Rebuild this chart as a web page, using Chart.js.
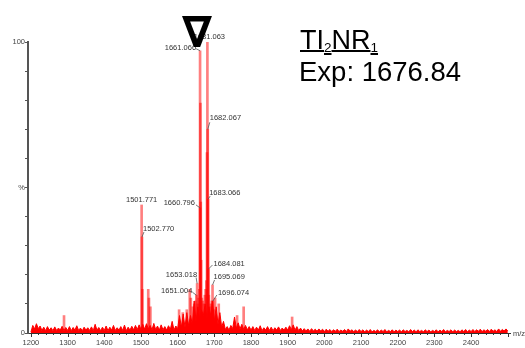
<!DOCTYPE html>
<html>
<head>
<meta charset="utf-8">
<script src="https://cdn.jsdelivr.net/npm/chart.js@4"></script>
<style>
html, body { margin: 0; padding: 0; background: #fff; }
#wrap { width: 525px; height: 348px; }
</style>
</head>
<body>
<div id="wrap"><canvas id="c"></canvas></div>
<script>
// baseline noise, one value every 5 Da starting at 1200 (relative intensity %)
const noiseStart = 1200;
const noiseStep = 5;
const noise = [
  0.3,2.6,1.4,3.2,1.5,2.4,0.9,2.0,0.8,2.2,1.0,1.8,0.8,2.1,0.9,1.7,1.0,2.3,0.8,1.9,
  0.9,2.2,0.8,1.9,1.0,2.5,0.9,1.7,0.8,2.0,1.0,1.8,0.9,2.1,0.8,3.0,1.0,1.9,0.8,2.0,
  0.9,2.4,0.8,2.0,1.0,2.6,0.9,1.8,1.0,2.2,0.9,2.7,0.8,2.0,1.0,2.3,1.1,2.6,1.2,2.8,
  1.2,3.0,1.3,3.2,1.4,2.6,1.1,3.3,1.2,2.4,1.0,2.8,1.1,2.2,1.0,2.5,1.2,4.0,1.0,2.4,
  1.5,6.0,2.0,6.5,2.0,7.0,2.5,6.0,3.0,11.0,4.0,9.0,5.0,8.0,6.0,10.0,5.0,9.0,6.0,11.0,
  4.0,9.0,3.0,7.0,2.0,4.0,1.2,2.2,1.0,2.6,1.5,5.5,1.6,3.5,1.4,3.0,1.2,2.6,1.1,2.2,
  1.0,2.2,0.9,2.0,1.0,2.5,0.8,1.8,1.0,2.2,0.9,2.0,0.8,1.8,1.0,2.1,0.9,1.7,1.0,2.0,
  1.0,2.5,1.1,2.8,1.0,2.2,0.8,1.7,0.7,1.5,0.7,1.4,0.6,1.5,0.7,1.3,0.6,1.4,0.7,1.3,
  0.5,1.3,0.6,1.2,0.5,1.1,0.6,1.3,0.5,1.0,0.6,1.2,0.5,1.4,0.6,1.1,0.5,1.0,0.5,1.2,
  0.5,1.1,0.4,1.0,0.5,1.2,0.4,0.9,0.5,1.1,0.4,1.0,0.5,1.2,0.4,0.9,0.5,1.1,0.4,1.0,
  0.5,1.0,0.4,1.1,0.5,0.9,0.4,1.2,0.5,1.0,0.4,1.1,0.5,0.9,0.4,1.1,0.5,1.0,0.4,0.9,
  0.5,1.1,0.4,1.0,0.5,1.2,0.4,0.9,0.5,1.1,0.4,1.0,0.5,0.9,0.4,1.1,0.5,1.2,0.4,1.0,
  0.5,1.2,0.5,1.1,0.6,1.3,0.5,1.1,0.6,1.2,0.5,1.3,0.6,1.1,0.5,1.4,0.6,1.2,0.7,1.4,0.7
];

// centroid peaks (m/z, %)
const peakMz = [1290.2, 1501.771, 1502.770, 1503.77, 1519.8, 1521.8, 1525.7, 1603.9, 1614.0, 1624.9,
  1633.0, 1635.9, 1641.1, 1645.0, 1648.0, 1651.004, 1653.018, 1655.0, 1657.1, 1659.0,
  1660.796, 1661.066, 1662.07, 1663.07, 1664.08, 1666.0, 1668.0, 1671.1, 1674.0, 1676.0,
  1678.1, 1679.9, 1681.063, 1682.067, 1683.066, 1684.081, 1685.1, 1687.0, 1690.0, 1693.0,
  1695.069, 1696.074, 1698.0, 1702.0, 1712.0, 1762.0, 1779.9, 1912.0];
const peakInt = [6, 44, 33, 15, 15, 12, 9, 8, 7, 8,
  15, 12, 9, 10, 11, 13, 17, 10, 12, 15,
  43, 97, 79, 45, 25, 12, 11, 10, 13, 15,
  18, 62, 100, 70, 46, 22, 13, 9, 10, 11,
  16.5, 11, 8, 12, 10, 6, 9, 5.5];

const labelled = ['1501.771', '1502.770', '1651.004', '1653.018', '1660.796', '1661.066',
  '1681.063', '1682.067', '1683.066', '1684.081', '1695.069', '1696.074'];

const xTickValues = [1200, 1300, 1400, 1500, 1600, 1700, 1800, 1900, 2000, 2100, 2200, 2300, 2400];
const yTickText = {0: '0', 50: '%', 100: '100'};

const noisePts = noise.map((v, i) => ({x: noiseStart + i * noiseStep, y: v}));
const peakPts = peakMz.map((m, i) => ({x: m, y: peakInt[i]}));

// label placement: [dx, dy, align, leader]
const labelPos = {
  '1501.771': [0, -5, 'center', null],
  '1502.770': [1, -8, 'left', [2, -5]],
  '1651.004': [-4, -4, 'right', [-4, -3]],
  '1653.018': [0, -9, 'right', [-1, -6]],
  '1660.796': [-5, -5, 'right', [-4, -3]],
  '1661.066': [-4, -3, 'right', [-4, -2]],
  '1681.063': [2, -5, 'center', null],
  '1682.067': [2, -11, 'left', [2, -7]],
  '1683.066': [1, -6, 'left', [2, -3]],
  '1684.081': [5, -5, 'left', [4, -4]],
  '1695.069': [1, -8, 'left', [2, -5]],
  '1696.074': [5, -8, 'left', [4, -6]]
};

const smallFont = '7.5px "Liberation Sans", Arial, sans-serif';

const decor = {
  id: 'decor',
  afterDraw(chart) {
    const {ctx, scales: {x, y}} = chart;
    ctx.save();

    // x axis ticks, long every 100, short every 20
    ctx.strokeStyle = '#333';
    ctx.lineWidth = 1;
    ctx.beginPath();
    for (let v = 1200; v <= 2500; v += 20) {
      const px = Math.round(x.getPixelForValue(v)) + 0.5;
      ctx.moveTo(px, y.bottom);
      ctx.lineTo(px, y.bottom + (v % 100 === 0 ? 4 : 2));
    }
    ctx.stroke();

    ctx.font = smallFont;
    ctx.fillStyle = '#444';
    ctx.textBaseline = 'middle';
    ctx.textAlign = 'center';
    xTickValues.forEach(v => ctx.fillText(String(v), x.getPixelForValue(v), y.bottom + 10));
    ctx.textAlign = 'left';
    ctx.fillText('m/z', 513, y.bottom + 1);

    // peak labels
    ctx.fillStyle = '#333';
    ctx.strokeStyle = '#555';
    ctx.lineWidth = 0.8;
    labelled.forEach(t => {
      const m = parseFloat(t);
      const idx = peakMz.findIndex(p => Math.abs(p - m) < 0.001);
      const px = x.getPixelForValue(m);
      const py = y.getPixelForValue(peakInt[idx]);
      const [dx, dy, al, ld] = labelPos[t];
      if (ld) {
        ctx.beginPath();
        ctx.moveTo(px, py);
        ctx.lineTo(px + ld[0], py + ld[1]);
        ctx.stroke();
      }
      ctx.textAlign = al;
      ctx.fillText(t, px + dx, py + dy);
    });

    // marker and annotation
    ctx.fillStyle = '#000';
    ctx.textAlign = 'center';
    ctx.textBaseline = 'alphabetic';
    ctx.font = 'bold 43px "DejaVu Sans"';
    ctx.fillText('\u2207', 197, 47);

    ctx.textAlign = 'left';
    let cx = 300;
    const parts = [['TI', false], ['2', true], ['NR', false], ['1', true]];
    parts.forEach(([s, sub]) => {
      ctx.font = sub ? '13.5px "Liberation Sans", Arial' : '27px "Liberation Sans", Arial';
      const base = sub ? 52 : 48.5;
      ctx.fillText(s, cx, base);
      const w = ctx.measureText(s).width;
      ctx.fillRect(cx, sub ? 53 : 50, w, 2);
      cx += w;
    });
    ctx.font = '27.5px "Liberation Sans", Arial';
    ctx.fillText('Exp: 1676.84', 299, 81);

    ctx.restore();
  }
};

new Chart(document.getElementById('c'), {
  type: 'bar',
  data: {
    datasets: [
      {
        type: 'line',
        data: noisePts,
        borderColor: '#ff0000',
        backgroundColor: '#ff0000',
        borderWidth: 1,
        pointRadius: 0,
        fill: 'origin',
        tension: 0,
        order: 0
      },
      {
        type: 'bar',
        data: peakPts,
        backgroundColor: 'rgba(255,0,0,0.5)',
        barThickness: 2,
        grouped: false,
        order: 1
      }
    ]
  },
  options: {
    responsive: true,
    maintainAspectRatio: false,
    animation: false,
    layout: {padding: {top: 42, right: 15, left: 0, bottom: 0}},
    plugins: {legend: {display: false}, tooltip: {enabled: false}},
    scales: {
      x: {
        type: 'linear',
        min: 1192,
        max: 2506,
        offset: false,
        grid: {display: false},
        border: {display: true, color: '#333', width: 1},
        afterFit: s => { s.height = 15; },
        ticks: {display: false}
      },
      y: {
        min: 0,
        max: 100,
        grid: {drawOnChartArea: false, drawTicks: true, tickLength: 3, color: '#555'},
        border: {display: true, color: '#555', width: 2},
        afterFit: s => { s.width = 28; },
        ticks: {
          stepSize: 10,
          padding: 0,
          color: '#444',
          font: {family: '"Liberation Sans", Arial', size: 7.5},
          callback: v => yTickText[v] ?? ''
        }
      }
    }
  },
  plugins: [decor]
});
</script>
</body>
</html>
